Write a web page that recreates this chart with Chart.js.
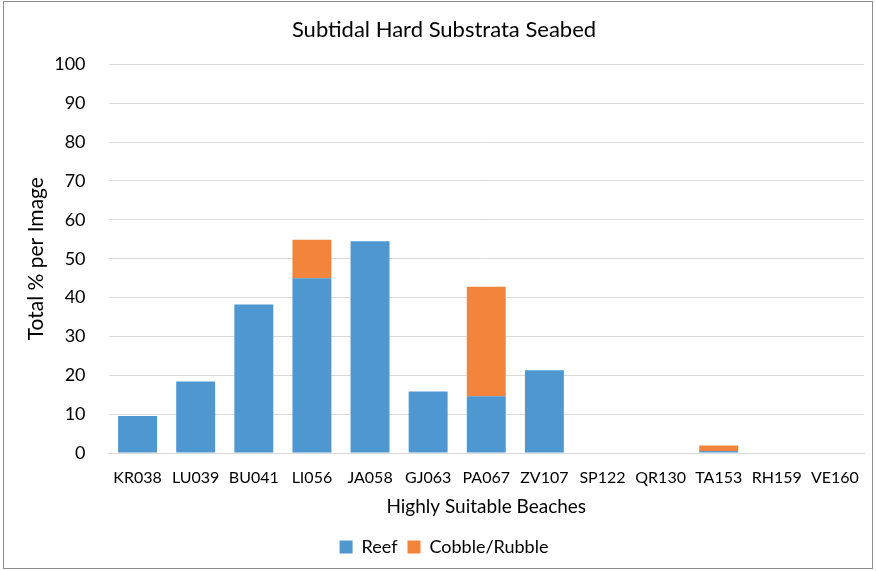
<!DOCTYPE html>
<html>
<head>
<meta charset="utf-8">
<script src="https://cdn.jsdelivr.net/npm/chart.js@4/dist/chart.umd.min.js"></script>
<style>
  html, body { margin: 0; padding: 0; background: #fff; }
  #wrap { position: absolute; left: 3px; top: 1px; width: 870px; height: 568px; border: 1px solid #8c8c8c; box-sizing: border-box; }
  canvas { display: block; }
</style>
</head>
<body>
<div id="wrap"><canvas id="c"></canvas></div>
<script>
const beaches = ['KR038','LU039','BU041','LI056','JA058','GJ063','PA067','ZV107','SP122','QR130','TA153','RH159','VE160'];
const reef =    [9.5, 18.4, 38.2, 45.0, 54.5, 15.8, 14.6, 21.3, 0, 0, 0.5, 0, 0];
const cobble =  [0,   0,    0,    9.9,  0,    0,    28.2, 0,    0, 0, 1.4, 0, 0];

const font = "Lato, 'Open Sans', sans-serif";

new Chart(document.getElementById('c'), {
  type: 'bar',
  data: {
    labels: beaches,
    datasets: [
      { label: 'Reef', data: reef, backgroundColor: '#4e97d1', borderWidth: 0 },
      { label: 'Cobble/Rubble', data: cobble, backgroundColor: '#f2843c', borderWidth: 0 }
    ]
  },
  options: {
    responsive: true,
    maintainAspectRatio: false,
    animation: false,
    layout: { padding: { left: 20, right: 8, top: 6, bottom: 2 } },
    datasets: { bar: { categoryPercentage: 0.67, barPercentage: 1.0 } },
    plugins: {
      title: {
        display: true,
        text: 'Subtidal Hard Substrata Seabed',
        color: '#000',
        font: { family: font, size: 22, weight: 'normal' },
        padding: { top: 9, bottom: 21 }
      },
      legend: {
        position: 'bottom',
        labels: {
          color: '#000',
          font: { family: font, size: 18 },
          boxWidth: 13,
          boxHeight: 13,
          padding: 10
        }
      },
      tooltip: { enabled: false }
    },
    scales: {
      x: {
        stacked: true,
        grid: { display: false },
        border: { color: '#d9d9d9', width: 1 },
        ticks: { color: '#000', font: { family: font, size: 16 }, maxRotation: 0, padding: 7 },
        title: { display: true, text: 'Highly Suitable Beaches', color: '#000', font: { family: font, size: 19 }, padding: { top: 1, bottom: 10 } }
      },
      y: {
        stacked: true,
        min: 0,
        max: 100,
        ticks: { stepSize: 10, color: '#000', font: { family: font, size: 18 }, padding: 23 },
        grid: { color: '#d9d9d9', lineWidth: 1, drawTicks: false },
        border: { display: false },
        title: { display: true, text: 'Total % per Image', color: '#000', font: { family: font, size: 21 }, padding: { top: 0, bottom: -18 } }
      }
    }
  }
});
</script>
</body>
</html>
